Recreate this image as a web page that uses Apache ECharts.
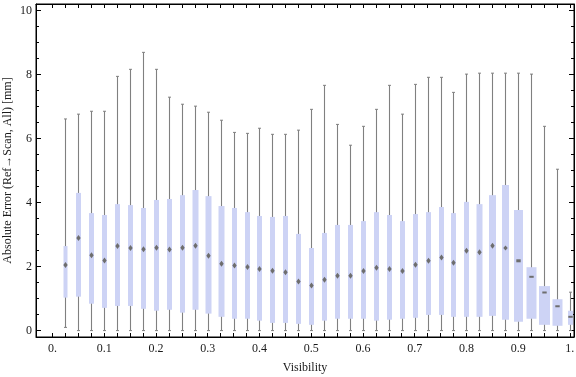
<!DOCTYPE html>
<html lang="en">
<head>
    <meta charset="UTF-8" />
    <title>Absolute Error vs Visibility</title>
    <script src="https://cdn.jsdelivr.net/npm/echarts@6/dist/echarts.min.js"></script>
    <style>
        html, body { margin: 0; padding: 0; background: #fff; }
    </style>
</head>
<body>
    <div style="width: 576px; height: 377px" id="chart"></div>
    <script>
        // 每个箱子的位置（Visibility）
        const visibility = [
            0.025, 0.05, 0.075, 0.1, 0.125, 0.15, 0.175, 0.2, 0.225, 0.25,
            0.275, 0.3, 0.325, 0.35, 0.375, 0.4, 0.425, 0.45, 0.475, 0.5,
            0.525, 0.55, 0.575, 0.6, 0.625, 0.65, 0.675, 0.7, 0.725, 0.75,
            0.775, 0.8, 0.825, 0.85, 0.875, 0.9, 0.925, 0.95, 0.975, 1.0
        ];
        // 须线下端
        const whiskerLow = [
            0.1, 0, 0, 0, 0, 0, 0, 0, 0, 0,
            0, 0, 0, 0, 0, 0, 0, 0, 0, 0,
            0, 0, 0, 0, 0, 0, 0, 0, 0, 0,
            0, 0, 0, 0, 0, 0, 0, 0, 0, 0
        ];
        // 下四分位
        const q1 = [
            1.03, 1.06, 0.84, 0.71, 0.77, 0.77, 0.68, 0.62, 0.65, 0.56,
            0.65, 0.53, 0.43, 0.37, 0.37, 0.31, 0.24, 0.24, 0.21, 0.18,
            0.31, 0.37, 0.37, 0.37, 0.31, 0.34, 0.37, 0.40, 0.49, 0.49,
            0.43, 0.43, 0.43, 0.46, 0.34, 0.28, 0.37, 0.18, 0.15, 0.18
        ];
        // 中位数
        const median = [
            2.05, 2.89, 2.35, 2.19, 2.64, 2.58, 2.54, 2.59, 2.53, 2.59,
            2.65, 2.34, 2.09, 2.03, 1.99, 1.92, 1.87, 1.82, 1.53, 1.41,
            1.59, 1.71, 1.71, 1.86, 1.96, 1.92, 1.86, 2.06, 2.18, 2.28,
            2.12, 2.49, 2.45, 2.65, 2.58, 2.18, 1.68, 1.19, 0.76, 0.43
        ];
        // 上四分位
        const q3 = [
            2.64, 4.30, 3.67, 3.61, 3.95, 3.92, 3.83, 4.08, 4.11, 4.23,
            4.39, 4.20, 3.89, 3.83, 3.70, 3.58, 3.55, 3.58, 3.02, 2.58,
            3.05, 3.30, 3.30, 3.42, 3.70, 3.61, 3.42, 3.64, 3.70, 3.86,
            3.67, 4.02, 3.95, 4.23, 4.55, 3.77, 1.98, 1.39, 0.98, 0.62
        ];
        // 须线上端
        const whiskerHigh = [
            6.61, 6.76, 6.85, 6.85, 7.94, 8.16, 8.69, 8.16, 7.29, 7.07,
            7.01, 6.82, 6.57, 6.19, 6.16, 6.32, 6.13, 6.13, 6.26, 6.91,
            7.66, 6.44, 5.79, 6.38, 6.91, 7.66, 6.76, 7.69, 7.91, 7.91,
            7.44, 8.01, 8.04, 8.04, 8.04, 8.04, 8.01, 6.38, 5.04, 1.20
        ];
        // 坐标轴刻度
        const xLabelValues = [0, 0.1, 0.2, 0.3, 0.4, 0.5, 0.6, 0.7, 0.8, 0.9, 1.0];
        const xTickValues = [0].concat(visibility);
        const yLabelValues = [0, 2, 4, 6, 8, 10];
        const yMinorValues = [0.5, 1, 1.5, 2.5, 3, 3.5, 4.5, 5, 5.5, 6.5, 7, 7.5, 8.5, 9, 9.5];

        // 样式：箱子宽度与中位数标记高度（像素）
        const boxWidthPx = [
            4, 5, 5, 5, 5, 5, 5, 5, 5, 5,
            6, 6, 6, 5, 5, 5, 5, 5, 5, 5,
            5, 5, 5, 5, 5, 5, 5, 5, 5, 5,
            5, 5, 6, 7, 7, 9, 10, 11, 10, 5
        ];
        const medianMarkPx = [
            6, 6, 6, 6, 6, 6, 6, 6, 6, 6,
            6, 6, 6, 6, 6, 6, 6, 6, 6, 6,
            6, 6, 6, 6, 6, 6, 6, 6, 6, 6,
            6, 6, 6, 6, 5, 3, 2, 2, 2, 2
        ];

        const FONT = "Liberation Serif";
        const TEXT = "#1a1a1a";
        const BOX = "#cdd3f5";
        const WHISKER = "#808080";
        const MARK = "#6e6e6e";

        const myChart = echarts.init(document.getElementById("chart"), null, { renderer: "canvas" });

        const boxData = visibility.map((v, i) => [v, whiskerLow[i], q1[i], median[i], q3[i], whiskerHigh[i]]);

        function renderBox(params, api) {
            const i = params.dataIndex;
            const x = api.value(0);
            const pLow = api.coord([x, api.value(1)]);
            const pQ1 = api.coord([x, api.value(2)]);
            const pMed = api.coord([x, api.value(3)]);
            const pQ3 = api.coord([x, api.value(4)]);
            const pHigh = api.coord([x, api.value(5)]);
            const cx = Math.round(pLow[0]) + 0.5;
            const w = boxWidthPx[i];
            const h = medianMarkPx[i];
            const mw = 2.2;
            return {
                type: "group",
                children: [
                    { type: "line", shape: { x1: cx, y1: pLow[1], x2: cx, y2: pHigh[1] }, style: { stroke: WHISKER, lineWidth: 1.1 } },
                    { type: "line", shape: { x1: cx - 1.5, y1: pLow[1], x2: cx + 1.5, y2: pLow[1] }, style: { stroke: WHISKER, lineWidth: 1 } },
                    { type: "line", shape: { x1: cx - 1.5, y1: pHigh[1], x2: cx + 1.5, y2: pHigh[1] }, style: { stroke: WHISKER, lineWidth: 1 } },
                    { type: "rect", shape: { x: cx - w / 2, y: pQ3[1], width: w, height: pQ1[1] - pQ3[1] }, style: { fill: BOX } },
                    {
                        type: "polygon",
                        shape: {
                            points: h > 3
                                ? [[cx, pMed[1] - h / 2], [cx + mw, pMed[1]], [cx, pMed[1] + h / 2], [cx - mw, pMed[1]]]
                                : [[cx - mw, pMed[1] - h / 2], [cx + mw, pMed[1] - h / 2], [cx + mw, pMed[1] + h / 2], [cx - mw, pMed[1] + h / 2]]
                        },
                        style: { fill: MARK }
                    }
                ]
            };
        }

        const blackLine = { show: true, onZero: false, lineStyle: { color: "#000", width: 1 } };
        const noLine = { show: false, onZero: false };

        option = {
            animation: false,
            backgroundColor: "#fff",
            grid: {
                left: 36, right: 2, top: 4, bottom: 40,
                containLabel: false, outerBoundsMode: "none",
                show: true, borderColor: "#000", borderWidth: 1, backgroundColor: "transparent"
            },
            xAxis: [
                {
                    type: "value",
                    position: "bottom",
                    min: -0.032,
                    max: 1.008,
                    axisLine: blackLine,
                    axisTick: { show: true, inside: true, length: 4, customValues: xTickValues, lineStyle: { color: "#000" } },
                    axisLabel: {
                        customValues: xLabelValues,
                        margin: 6,
                        fontFamily: FONT,
                        fontSize: 12,
                        color: TEXT,
                        formatter: function (v) {
                            if (v === 0) return "0.";
                            if (v === 1) return "1.";
                            return v.toFixed(1);
                        }
                    },
                    splitLine: { show: false },
                    name: "Visibility",
                    nameLocation: "middle",
                    nameGap: 25,
                    nameMoveOverlap: false,
                    nameTextStyle: { fontFamily: FONT, fontSize: 12, color: TEXT }
                },
                {
                    type: "value",
                    position: "top",
                    min: -0.032,
                    max: 1.008,
                    axisLine: blackLine,
                    axisTick: { show: true, inside: true, length: 4, customValues: xTickValues, lineStyle: { color: "#000" } },
                    axisLabel: { show: false },
                    splitLine: { show: false }
                }
            ],
            yAxis: [
                {
                    type: "value",
                    position: "left",
                    min: -0.2,
                    max: 10.2,
                    axisLine: blackLine,
                    axisTick: { show: true, inside: true, length: 5, customValues: yLabelValues, lineStyle: { color: "#000" } },
                    axisLabel: { customValues: yLabelValues, margin: 4, fontFamily: FONT, fontSize: 12, color: TEXT },
                    splitLine: { show: false },
                    name: "Absolute Error (Ref→Scan, All) [mm]",
                    nameLocation: "middle",
                    nameGap: 22,
                    nameMoveOverlap: false,
                    nameTextStyle: { fontFamily: FONT, fontSize: 12, color: TEXT }
                },
                {
                    type: "value",
                    position: "left",
                    min: -0.2,
                    max: 10.2,
                    axisLine: noLine,
                    axisTick: { show: true, inside: true, length: 3, customValues: yMinorValues, lineStyle: { color: "#000" } },
                    axisLabel: { show: false },
                    splitLine: { show: false }
                },
                {
                    type: "value",
                    position: "right",
                    min: -0.2,
                    max: 10.2,
                    axisLine: blackLine,
                    axisTick: { show: true, inside: true, length: 5, customValues: yLabelValues, lineStyle: { color: "#000" } },
                    axisLabel: { show: false },
                    splitLine: { show: false }
                },
                {
                    type: "value",
                    position: "right",
                    min: -0.2,
                    max: 10.2,
                    axisLine: noLine,
                    axisTick: { show: true, inside: true, length: 3, customValues: yMinorValues, lineStyle: { color: "#000" } },
                    axisLabel: { show: false },
                    splitLine: { show: false }
                }
            ],
            series: [
                {
                    type: "custom",
                    xAxisIndex: 0,
                    yAxisIndex: 0,
                    clip: true,
                    renderItem: renderBox,
                    encode: { x: 0, y: [1, 2, 3, 4, 5] },
                    data: boxData,
                    z: 1
                }
            ]
        };

        myChart.setOption(option);
    </script>
</body>
</html>
